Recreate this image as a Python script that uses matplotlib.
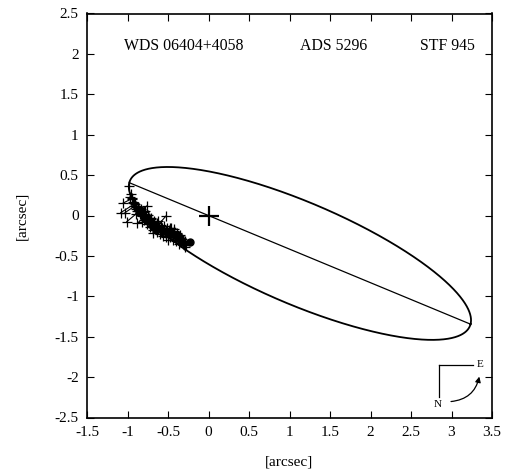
import numpy as np
import matplotlib
matplotlib.use("Agg")
import matplotlib.pyplot as plt

plt.rcParams['font.family'] = ['Liberation Serif', 'DejaVu Serif']

# Orbit geometry (apparent ellipse): periastron, apastron, conjugate half-diameter
periastron = (-0.978, 0.406)
apastron = (3.235, -1.345)
conjugate = (0.16, 0.615)

# Observations
obs_x = [-0.978, -0.969, -0.96, -0.95, -0.94, -0.93, -0.928, -0.92, -0.915, -0.91,
         -0.90, -0.895, -0.89, -0.88, -0.875, -0.87, -0.865, -0.86, -0.85, -0.845,
         -0.84, -0.83, -0.825, -0.82, -0.81, -0.80, -0.795, -0.79, -0.78, -0.775,
         -0.77, -0.76, -0.755, -0.75, -0.74, -0.735, -0.73, -0.72, -0.715, -0.71,
         -0.70, -0.695, -0.69, -0.68, -0.675, -0.67, -0.66, -0.655, -0.65, -0.64,
         -0.63, -0.62, -0.61, -0.60, -0.59, -0.58, -0.57, -0.56, -0.55, -0.54,
         -0.53, -0.52, -0.51, -0.50, -0.49, -0.48, -0.47, -0.46, -0.45, -0.44,
         -0.43, -0.42, -0.41, -0.40, -0.39, -0.38, -0.37, -0.36, -0.35, -0.34,
         -0.33, -0.32, -0.31, -0.30, -0.295, -0.29, -0.285, -0.28,
         -0.87, -0.83, -0.79, -0.75, -0.71, -0.67, -0.63, -0.59, -0.55, -0.51,
         -0.47, -0.43, -0.39, -0.35, -0.80, -0.76, -0.72, -0.68, -0.64, -0.60,
         -0.56, -0.52, -0.48, -0.44, -0.40, -0.36, -0.90, -0.62, -0.46, -0.42,
         -1.059, -1.084, -1.031, -1.01, -0.879, -0.763, -0.525, -0.496, -0.68, -0.82]
obs_y = [0.365, 0.233, 0.26, 0.20, 0.22, 0.17, 0.151, 0.16, 0.12, 0.14,
         0.10, 0.12, 0.08, 0.06, 0.10, 0.09, 0.05, 0.07, 0.05, 0.02,
         0.04, 0.03, 0.06, 0.00, 0.01, -0.01, 0.04, 0.02, -0.03, 0.00,
         -0.02, -0.04, -0.07, -0.06, -0.03, -0.09, -0.08, -0.07, -0.04, -0.10,
         -0.09, -0.13, -0.12, -0.11, -0.08, -0.14, -0.13, -0.17, -0.16, -0.12,
         -0.15, -0.17, -0.14, -0.18, -0.20, -0.16, -0.19, -0.20, -0.18, -0.21,
         -0.19, -0.23, -0.19, -0.22, -0.18, -0.20, -0.24, -0.21, -0.22, -0.25,
         -0.21, -0.23, -0.27, -0.26, -0.23, -0.28, -0.25, -0.27, -0.30, -0.28,
         -0.29, -0.33, -0.35, -0.37, -0.32, -0.39, -0.35, -0.36,
         0.11, 0.08, 0.05, 0.01, -0.03, -0.07, -0.09, -0.12, -0.13, -0.15,
         -0.16, -0.19, -0.22, -0.24, -0.06, -0.10, -0.14, -0.18, -0.20, -0.23,
         -0.25, -0.27, -0.27, -0.30, -0.32, -0.35, 0.02, -0.07, -0.15, -0.17,
         0.151, 0.035, 0.035, -0.077, -0.097, 0.118, -0.006, -0.303, -0.22, -0.08]

# Latest measurement (filled circle)
new_x = [-0.228]
new_y = [-0.324]

primary = (0.0, 0.0)

fig = plt.figure(figsize=(5.07, 4.72), dpi=100)
ax = fig.add_axes([87/507, 1 - 417.5/472, 405/507, 404/472])

P = np.array(periastron)
A = np.array(apastron)
C = (P + A) / 2
U = A - C
V = np.array(conjugate)
E = np.linspace(0, 2*np.pi, 1441)
ex = C[0] + U[0]*np.cos(E) + V[0]*np.sin(E)
ey = C[1] + U[1]*np.cos(E) + V[1]*np.sin(E)
ax.plot(ex, ey, color='black', lw=1.3)
ax.plot([P[0], A[0]], [P[1], A[1]], color='black', lw=0.9)

# residual lines to nearest orbit point
for x, y in zip(obs_x, obs_y):
    d = (ex - x)**2 + (ey - y)**2
    i = int(np.argmin(d))
    ax.plot([x, ex[i]], [y, ey[i]], color='black', lw=0.8)

ax.plot(obs_x, obs_y, '+', color='black', ms=6.5, mew=0.9)
ax.plot(new_x, new_y, 'o', color='black', ms=5)
ax.plot([primary[0]], [primary[1]], '+', color='black', ms=14, mew=1.6)

ax.set_xlim(-1.5, 3.5)
ax.set_ylim(-2.5, 2.5)
ax.set_xticks(np.arange(-1.5, 3.51, 0.5))
ax.set_yticks(np.arange(-2.5, 2.51, 0.5))
ax.set_xticklabels(['-1.5', '-1', '-0.5', '0', '0.5', '1', '1.5', '2', '2.5', '3', '3.5'])
ax.set_yticklabels(['-2.5', '-2', '-1.5', '-1', '-0.5', '0', '0.5', '1', '1.5', '2', '2.5'])
ax.tick_params(direction='in', top=True, right=True, length=5, width=0.8, labelsize=11, pad=6)
for s in ax.spines.values():
    s.set_linewidth(1.2)
ax.set_xlabel('[arcsec]', fontsize=11, labelpad=12)
ax.set_ylabel('[arcsec]', fontsize=11, labelpad=19)

ax.text(-0.3, 2.1, 'WDS 06404+4058', ha='center', va='center', fontsize=11.4)
ax.text(1.55, 2.1, 'ADS 5296', ha='center', va='center', fontsize=11.4)
ax.text(2.95, 2.1, 'STF 945', ha='center', va='center', fontsize=11.4)

# compass
tr = ax.transAxes
ax.plot([0.868, 0.868], [0.051, 0.13], color='black', lw=0.9, transform=tr)
ax.plot([0.868, 0.954], [0.13, 0.13], color='black', lw=0.9, transform=tr)
ax.text(0.970, 0.13, 'E', ha='center', va='center', fontsize=8, transform=tr)
ax.text(0.867, 0.033, 'N', ha='center', va='center', fontsize=8, transform=tr)
ax.annotate('', xy=(0.970, 0.108), xytext=(0.892, 0.039), xycoords=tr, textcoords=tr,
            arrowprops=dict(arrowstyle='-|>', color='black', lw=0.9,
                            connectionstyle='arc3,rad=0.4', mutation_scale=8))

fig.savefig('out.png', dpi=100)
